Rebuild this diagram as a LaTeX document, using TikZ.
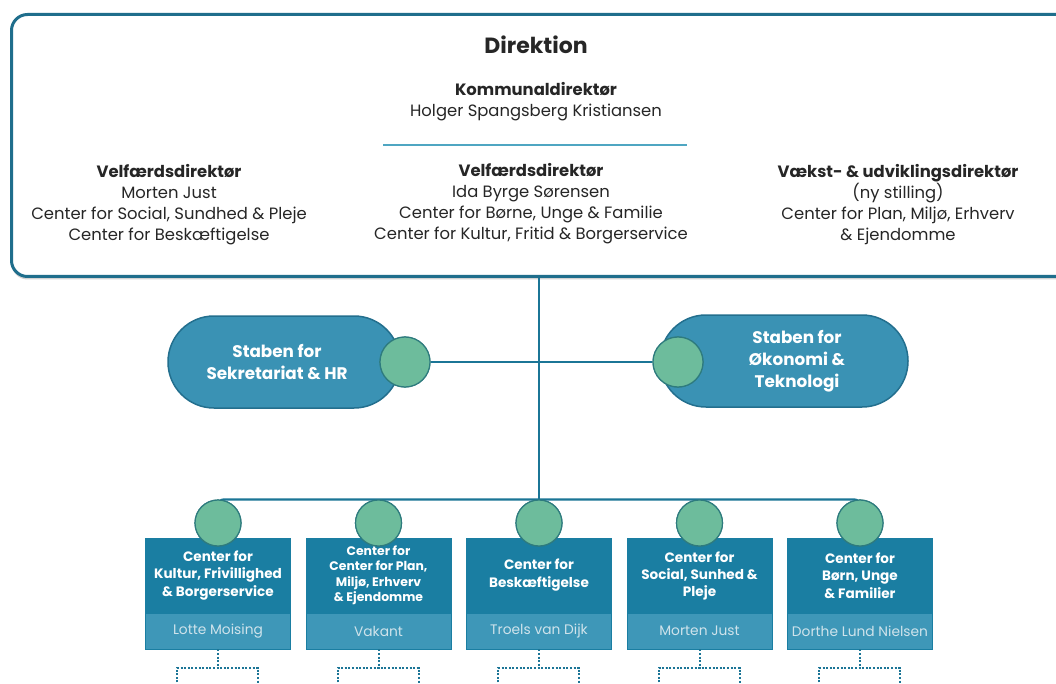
\documentclass[tikz,border=0pt]{standalone}
\usepackage{fontspec}
\setmainfont{Poppins}
\usetikzlibrary{shadows,calc}
\definecolor{frame}{HTML}{1F6E8C}
\definecolor{conn}{HTML}{1B7596}
\definecolor{pillfill}{HTML}{3A92B4}
\definecolor{pillline}{HTML}{236F8E}
\definecolor{knobfill}{HTML}{6DBC9C}
\definecolor{knobline}{HTML}{2E7B7E}
\definecolor{boxtop}{HTML}{1A7EA2}
\definecolor{boxbot}{HTML}{3E97B8}
\definecolor{nametext}{HTML}{CFE3EB}
\definecolor{divline}{HTML}{4FA6C2}
\definecolor{bodytext}{HTML}{262626}
\newcommand\mkcenter[6]{%
  \node[titlebox, font=\bfseries\fontsize{#5}{#6}\selectfont] (t#1) at (#2,575.5) {#3};
  \node[namebox] (n#1) at (#2,631) {#4};
  \node[knob] (c#1) at (#2,523) {};
  \draw[dotline] (n#1.south) -- (#2,668) coordinate (m#1);
  \draw[dotline] (#2-41,686) coordinate (l#1) |- (m#1) -| (#2+40,686) coordinate (r#1);
}
\begin{document}
\begin{tikzpicture}[x=1pt,y=-1pt,
  conn/.style={draw=conn, line width=2.2pt},
  knob/.style={circle, fill=knobfill, draw=knobline, line width=1.2pt, minimum size=46pt, inner sep=0pt},
  pillbox/.style={rectangle, rounded corners=46pt, fill=pillfill, draw=pillline, line width=1.5pt, minimum height=92pt, inner sep=0pt},
  pilltext/.style={text=white, font=\bfseries\fontsize{16.8}{22}\selectfont, align=center},
  titlebox/.style={rectangle, fill=boxtop, draw=boxtop, minimum width=145pt, minimum height=75pt, inner sep=0pt, text=white, align=center},
  namebox/.style={rectangle, fill=boxbot, draw=boxtop, line width=0.8pt, minimum width=145pt, minimum height=36pt, inner sep=0pt, text=nametext, font=\fontsize{13.8}{15}\selectfont},
  dotline/.style={draw=conn, line width=2pt, dash pattern=on 2pt off 1.6pt},
  toptext/.style={text=bodytext, align=center, font=\fontsize{16.4}{21}\selectfont},
]
\useasboundingbox (0,0) rectangle (1056,684);
\fill[white] (0,0) rectangle (1056,684);
% Direktion frame
\node[draw=frame, line width=3pt, fill=white, rounded corners=16pt, minimum width=1065pt, minimum height=262pt, anchor=north west,
  drop shadow={shadow xshift=0pt, shadow yshift=-3pt, opacity=0.35}] (dir) at (10,13) {};
\node[text=bodytext, font=\bfseries\fontsize{22}{26}\selectfont] (dtitle) at (536,45) {Direktion};
\node[toptext] (kd) at (536,101.5) {\textbf{Kommunaldirektør}\\Holger Spangsberg Kristiansen};
\draw[divline, line width=2pt] (383,145) coordinate (dl) -- (687,145) coordinate (dr);
\node[toptext] (vd1) at (169,205) {\textbf{Velfærdsdirektør}\\Morten Just\\Center for Social, Sundhed \& Pleje\\Center for Beskæftigelse};
\node[toptext] (vd2) at (531,203.5) {\textbf{Velfærdsdirektør}\\Ida Byrge Sørensen\\Center for Børne, Unge \& Familie\\Center for Kultur, Fritid \& Borgerservice};
\node[toptext] (vud) at (898,205) {\textbf{Vækst- \& udviklingsdirektør}\\(ny stilling)\\Center for Plan, Miljø, Erhverv\\\& Ejendomme};
% staff
\node[pillbox, minimum width=232pt] (sekr) at (284,362) {};
\node[pilltext] (sekrt) at (277,362) {Staben for\\Sekretariat \& HR};
\node[pillbox, minimum width=248pt] (oek) at (784,361) {};
\node[pilltext] (oekt) at (797,361) {Staben for\\Økonomi \&\\Teknologi};
\node[knob, minimum size=50pt] (ks) at (405,362) {};
\node[knob, minimum size=50pt] (ko) at (678,362) {};
\draw[conn] (ks.east) -- (ko.west);
% centers
\mkcenter{1}{218}{Center for\\Kultur, Frivillighed\\\& Borgerservice}{Lotte Moising}{13.6}{17.5}
\mkcenter{2}{378.5}{Center for\\Center for Plan,\\Miljø, Erhverv\\\& Ejendomme}{Vakant}{12.4}{15.5}
\mkcenter{3}{539}{Center for\\Beskæftigelse}{Troels van Dijk}{13.6}{18}
\mkcenter{4}{699.5}{Center for\\Social, Sunhed \&\\Pleje}{Morten Just}{13.6}{17}
\mkcenter{5}{860}{Center for\\Børn, Unge\\\& Familier}{Dorthe Lund Nielsen}{13.6}{17.5}
% bus
\draw[conn] (dir.south -| c3.north) -- (c3.north);
\draw[conn, rounded corners=6pt] (c1.center) |- (c3.north) -| (c5.center);
\foreach \i in {1,...,5} {\node[knob] at (c\i) {};}
\node[knob, minimum size=50pt] at (ks) {};
\node[knob, minimum size=50pt] at (ko) {};
\end{tikzpicture}
\end{document}
